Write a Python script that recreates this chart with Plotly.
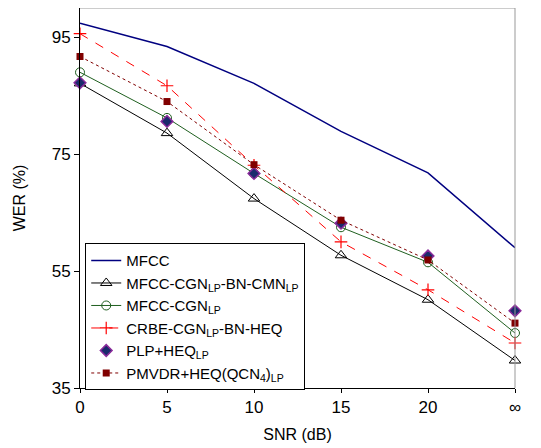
import plotly.graph_objects as go

snr_labels = ["0", "5", "10", "15", "20", "∞"]
mfcc = [97.4, 93.4, 87.1, 78.9, 71.8, 59.0]
mfcc_cgn_bn_cmn = [87.1, 78.6, 67.4, 57.7, 50.1, 39.7]
mfcc_cgn = [89.0, 81.2, 71.7, 62.5, 56.5, 44.4]
crbe = [95.6, 86.7, 73.1, 60.0, 51.8, 42.7]
plp_heq = [87.2, 80.6, 71.7, 63.2, 57.6, 48.2]
pmvdr = [91.7, 84.0, 73.2, 63.7, 56.9, 46.1]
y_ticks = [35, 55, 75, 95]

x = list(range(len(snr_labels)))
fnt = "Liberation Sans, Arial, sans-serif"

fig = go.Figure()
fig.add_trace(go.Scatter(x=x, y=mfcc, name="MFCC", mode="lines",
                         line=dict(color="#000080", width=1.5)))
fig.add_trace(go.Scatter(x=x, y=mfcc_cgn_bn_cmn, name="MFCC-CGN<sub>LP</sub>-BN-CMN<sub>LP</sub>",
                         mode="lines+markers", line=dict(color="black", width=1),
                         marker=dict(symbol="triangle-up-open", size=10, color="black")))
fig.add_trace(go.Scatter(x=x, y=mfcc_cgn, name="MFCC-CGN<sub>LP</sub>",
                         mode="lines+markers", line=dict(color="#1f5f1f", width=1),
                         marker=dict(symbol="circle-open", size=9, color="#1f5f1f")))
fig.add_trace(go.Scatter(x=x, y=crbe, name="CRBE-CGN<sub>LP</sub>-BN-HEQ",
                         mode="lines+markers", line=dict(color="#ff0000", width=1, dash="dash"),
                         marker=dict(symbol="cross-thin", size=9, color="#ff0000",
                                     line=dict(color="#ff0000", width=1.2))))
fig.add_trace(go.Scatter(x=x, y=plp_heq, name="PLP+HEQ<sub>LP</sub>", mode="markers",
                         marker=dict(symbol="diamond", size=9, color="#1a2a6c",
                                     line=dict(color="#8a2a9a", width=1.5))))
fig.add_trace(go.Scatter(x=x, y=pmvdr, name="PMVDR+HEQ(QCN<sub>4</sub>)<sub>LP</sub>",
                         mode="lines+markers", line=dict(color="#800000", width=1, dash="dot"),
                         marker=dict(symbol="square", size=7, color="#800000")))

fig.update_layout(
    width=533, height=440,
    margin=dict(l=72, r=26, t=0, b=60),
    plot_bgcolor="white", paper_bgcolor="white",
    font=dict(family=fnt, size=16, color="black"),
    showlegend=True,
    legend=dict(x=0.012, y=0.381, xanchor="left", yanchor="top",
                bordercolor="black", borderwidth=1, bgcolor="white",
                font=dict(size=15, family=fnt), tracegroupgap=0),
    xaxis=dict(range=[0, 5], tickmode="array", tickvals=x, ticktext=snr_labels,
               showline=True, linecolor="black", linewidth=1, ticks="outside",
               ticklen=4, tickcolor="black", showgrid=False, zeroline=False,
               tickfont=dict(size=17),
               title=dict(text="SNR (dB)", font=dict(size=16), standoff=12)),
    yaxis=dict(range=[35, 100], tickmode="array", tickvals=y_ticks,
               showline=True, linecolor="black", linewidth=1, ticks="outside",
               ticklen=5, tickcolor="black", showgrid=False, zeroline=False,
               tickfont=dict(size=17),
               title=dict(text="WER (%)", font=dict(size=16), standoff=22)),
    shapes=[
        dict(type="line", xref="paper", yref="paper", x0=0, x1=1, y0=1, y1=1,
             line=dict(color="#999999", width=1)),
        dict(type="line", xref="paper", yref="paper", x0=1, x1=1, y0=0, y1=1,
             line=dict(color="#999999", width=1)),
    ],
)
fig.update_traces(cliponaxis=False)
fig.write_html("out.html")
